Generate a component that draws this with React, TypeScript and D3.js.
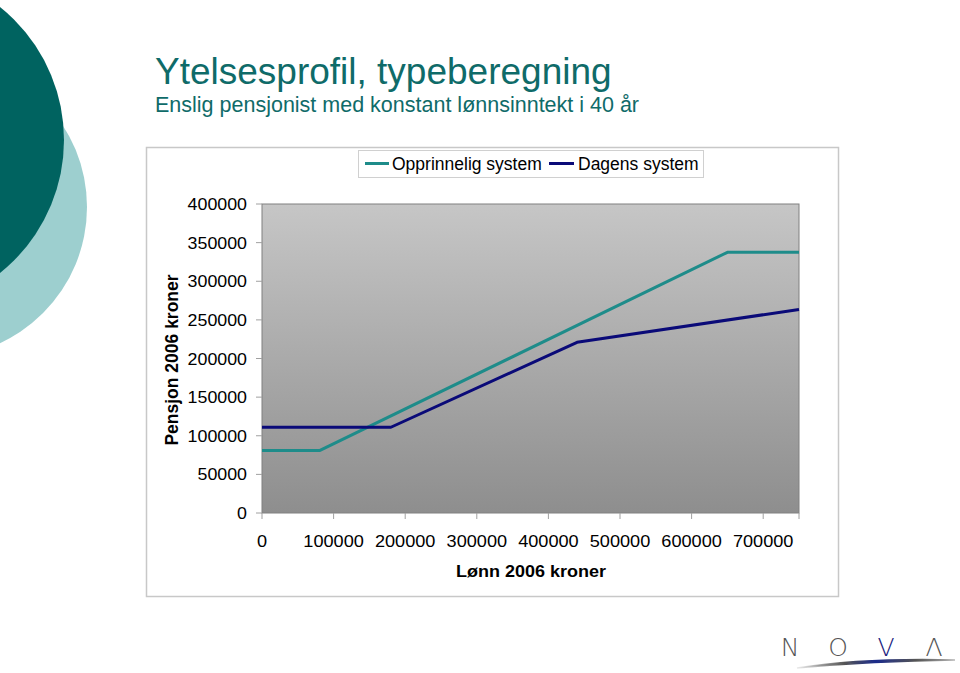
import React from "react";
import * as d3 from "d3";

const salaryOpprinnelig = [0, 81000, 650000, 750000];
const pensionOpprinnelig = [81000, 81000, 337500, 337500];
const salaryDagens = [0, 180000, 440000, 750000];
const pensionDagens = [111000, 111000, 221000, 263500];
const yTicks = [0, 50000, 100000, 150000, 200000, 250000, 300000, 350000, 400000];
const xTicks = [0, 100000, 200000, 300000, 400000, 500000, 600000, 700000];
const seriesNames = ["Opprinnelig system", "Dagens system"];
const titleText = "Ytelsesprofil, typeberegning";
const subtitleText = "Enslig pensjonist med konstant lønnsinntekt i 40 år";
const xTitle = "Lønn 2006 kroner";
const yTitle = "Pensjon 2006 kroner";
const logoLetters = ["N", "O", "V", "Λ"];

const TEAL = "#1e8c8a";
const NAVY = "#0a0a78";
const FONT = "'Liberation Sans', Arial, sans-serif";

function SText(props: {
  x: number;
  y: number;
  sx?: number;
  size: number;
  anchor?: string;
  weight?: string;
  fill?: string;
  children: React.ReactNode;
}) {
  const { x, y, sx = 1, size, anchor = "start", weight = "normal", fill = "#000", children } = props;
  return (
    <text
      transform={`translate(${x},${y}) scale(${sx},1)`}
      fontSize={size}
      textAnchor={anchor}
      fontWeight={weight}
      fill={fill}
    >
      {children}
    </text>
  );
}

export default function App() {
  const plot = { l: 262, r: 799, t: 204, b: 513 };
  const x = d3.scaleLinear().domain([0, 750000]).range([plot.l, plot.r]);
  const y = d3.scaleLinear().domain([0, 400000]).range([plot.b, plot.t]);
  const line = d3
    .line<[number, number]>()
    .x((d) => x(d[0]))
    .y((d) => y(d[1]));
  const opp: [number, number][] = salaryOpprinnelig.map((s, i) => [s, pensionOpprinnelig[i]]);
  const dag: [number, number][] = salaryDagens.map((s, i) => [s, pensionDagens[i]]);

  return (
    <svg
      width={960}
      height={673}
      style={{ position: "absolute", left: 0, top: 0, background: "#fff" }}
      fontFamily={FONT}
    >
      <defs>
        <linearGradient id="plotbg" x1="0" y1="0" x2="0" y2="1">
          <stop offset="0" stopColor="#c6c6c6" />
          <stop offset="1" stopColor="#8e8e8e" />
        </linearGradient>
        <linearGradient id="swoosh" x1="0" y1="0" x2="1" y2="0">
          <stop offset="0" stopColor="#bbbbbb" stopOpacity="0.3" />
          <stop offset="0.3" stopColor="#555" />
          <stop offset="0.5" stopColor="#1a2a8a" />
          <stop offset="0.75" stopColor="#555" />
          <stop offset="1" stopColor="#888" stopOpacity="0.6" />
        </linearGradient>
      </defs>
      {/* decorative circles */}
      <circle cx={-63} cy={207} r={150} fill="#9dcfcf" />
      <circle cx={-106} cy={140} r={170} fill="#006360" />

      {/* title */}
      <SText x={155} y={84} size={37} fill="#0f6b69">
        {titleText}
      </SText>
      <SText x={155} y={112} size={21.5} fill="#0f6b69">
        {subtitleText}
      </SText>

      {/* chart frame */}
      <rect x={146.5} y={147.5} width={692} height={449} fill="#fff" stroke="#c8c8c8" strokeWidth={1.5} />

      {/* legend */}
      <rect x={358.5} y={150.5} width={345} height={27} fill="#fff" stroke="#d0d0d0" />
      <line x1={365} x2={389} y1={163.5} y2={163.5} stroke={TEAL} strokeWidth={3} />
      <SText x={392} y={170} size={17.5}>
        {seriesNames[0]}
      </SText>
      <line x1={549} x2={574} y1={163.5} y2={163.5} stroke={NAVY} strokeWidth={3} />
      <SText x={578} y={170} size={17.5}>
        {seriesNames[1]}
      </SText>

      {/* plot area */}
      <rect x={plot.l} y={plot.t} width={plot.r - plot.l} height={plot.b - plot.t} fill="url(#plotbg)" stroke="#808080" strokeWidth={1} />

      {/* y axis */}
      {yTicks.map((t) => (
        <g key={"y" + t}>
          <line x1={plot.l - 6} x2={plot.l} y1={y(t)} y2={y(t)} stroke="#a0a0a0" />
          <SText x={247} y={y(t) + 6} size={16.5} sx={1.08} anchor="end">
            {t}
          </SText>
        </g>
      ))}
      {/* x axis */}
      {xTicks.map((t) => (
        <g key={"x" + t}>
          <line x1={x(t)} x2={x(t)} y1={plot.b} y2={plot.b + 6} stroke="#a0a0a0" />
          <SText x={x(t)} y={547} size={16.5} sx={1.1} anchor="middle">
            {t}
          </SText>
        </g>
      ))}
      <line x1={plot.r} x2={plot.r} y1={plot.b} y2={plot.b + 6} stroke="#a0a0a0" />

      {/* lines */}
      <path d={line(opp) || ""} fill="none" stroke={TEAL} strokeWidth={3} strokeLinejoin="round" />
      <path d={line(dag) || ""} fill="none" stroke={NAVY} strokeWidth={3} strokeLinejoin="round" />

      {/* axis titles */}
      <SText x={531} y={577} size={17} sx={1.06} weight="bold" anchor="middle">
        {xTitle}
      </SText>
      <text
        transform="translate(178,360) rotate(-90)"
        fontSize={17.5}
        fontWeight="bold"
        textAnchor="middle"
        fill="#000"
      >
        {yTitle}
      </text>

      {/* logo */}
      {logoLetters.map((c, i) => (
        <text
          key={c}
          x={790 + i * 48}
          y={656}
          fontSize={25}
          textAnchor="middle"
          fill={c === "V" ? "#1a237e" : "#555"}
          style={{ fontFamily: "'DejaVu Sans', sans-serif", fontWeight: 200 }}
        >
          {c}
        </text>
      ))}
      <path
        d="M797,668 C830,663 880,658 955,660 C880,661 830,665 797,668 Z"
        fill="url(#swoosh)"
        stroke="url(#swoosh)"
        strokeWidth={1.4}
      />
    </svg>
  );
}
